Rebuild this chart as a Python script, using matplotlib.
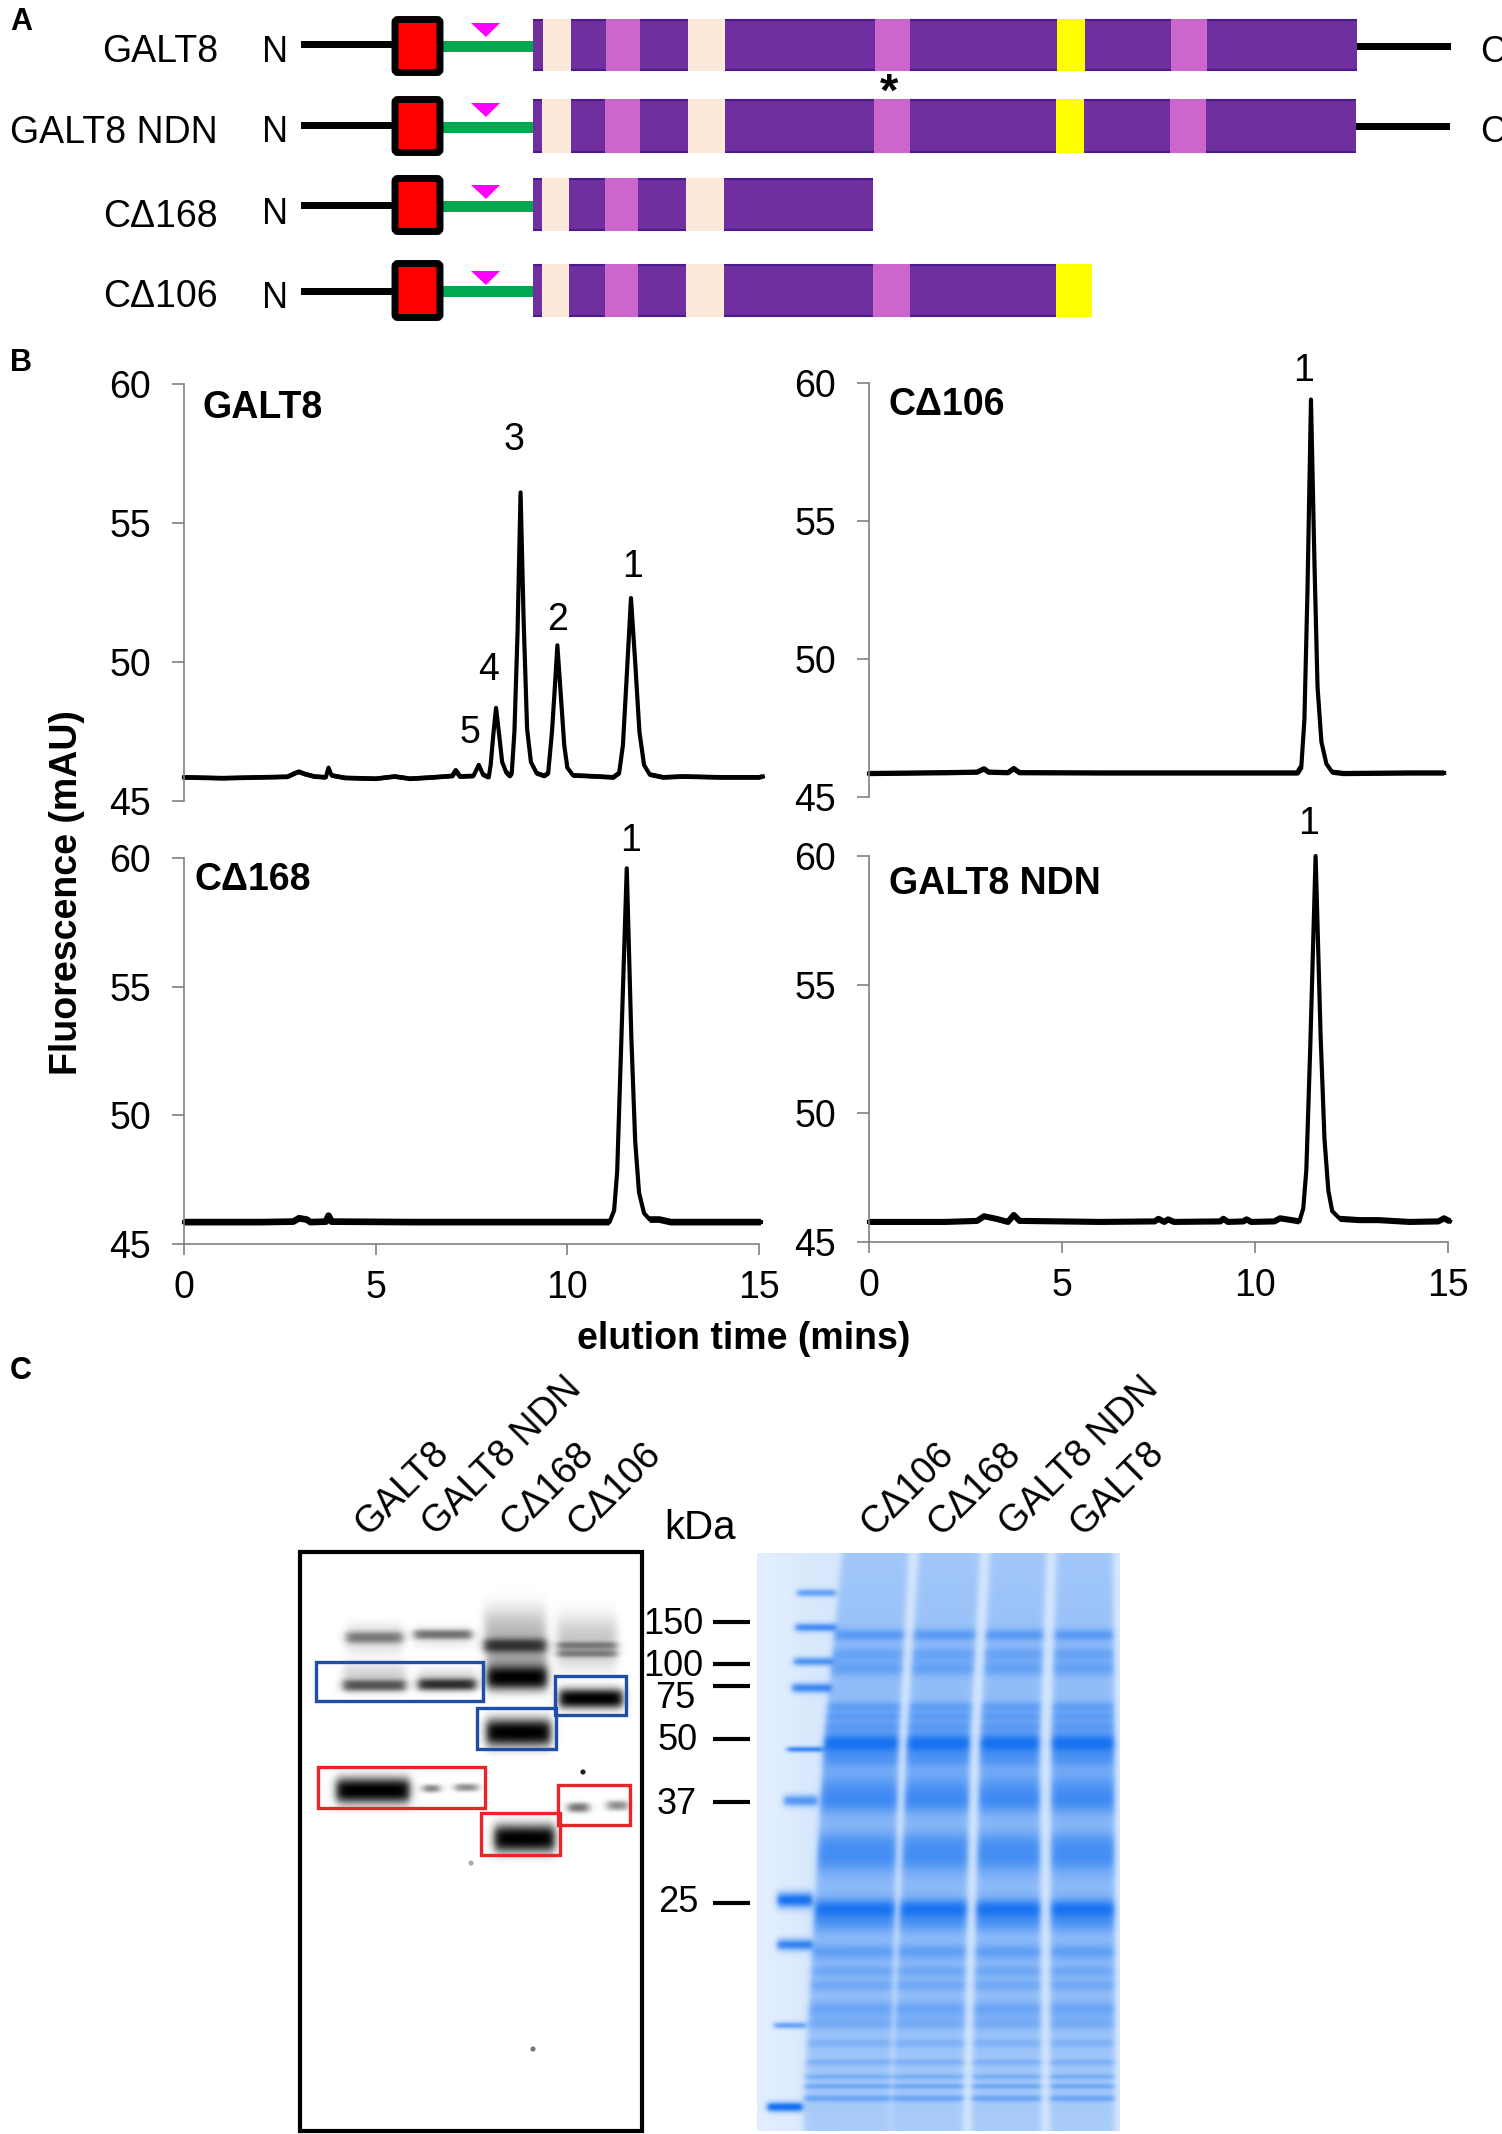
import numpy as np
import matplotlib
matplotlib.use("Agg")
import matplotlib.pyplot as plt
from matplotlib.patches import Rectangle, FancyBboxPatch

W, H = 1502, 2134
plt.rcParams['font.family'] = ['Liberation Sans', 'DejaVu Sans']

# ---- panel A, domain boundaries per construct
row_names = ["GALT8", "GALT8 NDN", "C\u0394168", "C\u0394106"]
row_edges = [
    [533, 543, 571, 606, 640, 688, 725, 875, 910, 1057, 1085, 1171, 1207, 1357],
    [533, 542, 571, 605, 640, 688, 725, 874, 910, 1056, 1084, 1170, 1206, 1356],
    [533, 542, 569, 605, 638, 686, 724, 873],
    [533, 542, 569, 605, 638, 686, 724, 873, 910, 1056, 1092],
]
row_top = [19, 99, 178, 264]
row_bot = [71, 153, 231, 317]
box_top = [16, 96, 175, 260]
box_bot = [76, 156, 235, 321]
line_y = [44, 125, 205, 291]
green_y = [46, 127, 206, 291]
tri_top = [23, 103, 185, 271]
name_y = [52, 133, 217, 297]
n_y = [53, 133, 214, 299]
c_line_y = [46, 126]
c_y = [52, 132]
purple, peach, pink, yellow = "#6F2F9F", "#FDE9D9", "#CC66CC", "#FFFF00"
seg_colors = [purple, peach, purple, pink, purple, peach, purple, pink, purple,
              yellow, purple, pink, purple]

# ---- panel B, traces
galt8_t = [0, 1, 2, 2.7, 2.9, 3.0, 3.15, 3.4, 3.7, 3.77, 3.85, 4.2, 5, 5.5, 5.9, 6.5, 7.0, 7.09, 7.2,
           7.55, 7.69, 7.8, 7.95, 8.0, 8.07, 8.14, 8.22, 8.3, 8.4, 8.5, 8.55, 8.62, 8.7, 8.78, 8.86,
           8.95, 9.05, 9.2, 9.4, 9.5, 9.6, 9.67, 9.74, 9.82, 9.92, 10.0, 10.15, 10.5, 11.2, 11.35,
           11.45, 11.55, 11.66, 11.77, 11.88, 12.0, 12.15, 12.5, 13, 14, 15, 15.1]
galt8_v = [45.85, 45.82, 45.85, 45.87, 46.0, 46.05, 45.97, 45.88, 45.85, 46.2, 45.92, 45.83, 45.8, 45.88,
           45.8, 45.85, 45.9, 46.1, 45.88, 45.9, 46.3, 45.95, 45.85, 46.3, 47.4, 48.35, 47.4, 46.4, 46.05,
           45.9, 46.0, 47.5, 51.0, 56.1, 51.5, 47.6, 46.4, 46.0, 45.9, 46.0, 47.5, 49.0, 50.6, 49.0, 47.0,
           46.2, 45.92, 45.9, 45.85, 46.0, 47.0, 49.5, 52.3, 50.0, 47.5, 46.3, 45.95, 45.85, 45.88, 45.85,
           45.85, 45.88]
c106_t = [0, 2, 2.8, 2.98, 3.1, 3.6, 3.75, 3.9, 6, 9, 11.1, 11.2, 11.28, 11.36, 11.45, 11.54, 11.62, 11.72,
          11.85, 12.0, 12.3, 14, 14.9]
c106_v = [45.85, 45.88, 45.9, 46.02, 45.9, 45.88, 46.03, 45.88, 45.87, 45.87, 45.87, 46.1, 47.8, 52.5, 59.4,
          53.5, 49.0, 47.0, 46.2, 45.9, 45.85, 45.87, 45.87]
c168_t = [0, 2, 2.85, 3.0, 3.2, 3.3, 3.7, 3.77, 3.85, 6, 9, 11.1, 11.22, 11.3, 11.4, 11.55, 11.67, 11.77,
          11.87, 12.0, 12.15, 12.4, 12.7, 14, 15.05]
c168_v = [45.85, 45.85, 45.87, 46.0, 45.95, 45.85, 45.87, 46.1, 45.87, 45.85, 45.85, 45.85, 46.3, 47.8, 52.5,
          59.6, 53.0, 49.0, 47.0, 46.2, 45.95, 45.95, 45.85, 45.85, 45.85]
ndn_t = [0, 2, 2.8, 2.98, 3.3, 3.6, 3.75, 3.9, 6, 7.4, 7.5, 7.65, 7.75, 7.9, 9.1, 9.18, 9.3, 9.7, 9.78, 9.9,
         10.5, 10.65, 10.95, 11.15, 11.25, 11.33, 11.43, 11.57, 11.7, 11.8, 11.9, 12.0, 12.2, 12.7, 13.2, 14,
         14.75, 14.9, 15.05]
ndn_v = [45.78, 45.78, 45.82, 46.0, 45.9, 45.78, 46.05, 45.82, 45.78, 45.8, 45.9, 45.78, 45.88, 45.78, 45.8, 45.9,
         45.78, 45.8, 45.88, 45.78, 45.8, 45.92, 45.85, 45.8, 46.3, 47.8, 52.5, 60.0, 53.0, 49.0, 47.0, 46.2, 45.9,
         45.85, 45.85, 45.78, 45.8, 45.92, 45.8]

panel_names = ["GALT8", "C\u0394106", "C\u0394168", "GALT8 NDN"]
panel_t = [galt8_t, c106_t, c168_t, ndn_t]
panel_v = [galt8_v, c106_v, c168_v, ndn_v]
panel_left = [184, 869, 184, 869]
panel_right = [759, 1448, 759, 1448]
panel_y60 = [384, 383, 858, 856]
panel_y45 = [801, 797, 1244, 1242]
panel_base_lw = [3.4, 3.8, 4.8, 4.4]
panel_name_xy = [(202, 408), (889, 405), (195, 880), (889, 884)]
y_ticks = [45, 50, 55, 60]
x_ticks = [0, 5, 10, 15]
peak_labels = [("1", 633, 567), ("2", 558, 620), ("3", 514, 440), ("4", 489, 670), ("5", 470, 733),
               ("1", 1304, 371), ("1", 631, 841), ("1", 1309, 824)]

# ---- panel C, blot bands: x0, x1, y centre, half height, darkness
blot_bands = [
    (346, 402, 1637, 6, .45), (346, 402, 1638, 15, .14), (414, 471, 1634, 5, .5), (414, 471, 1636, 11, .1),
    (484, 545, 1645, 7, .7), (484, 545, 1632, 25, .25), (487, 546, 1677, 12, 1.0), (487, 546, 1662, 24, .3),
    (557, 616, 1645, 4, .4), (557, 616, 1653, 4, .4), (557, 616, 1642, 26, .22),
    (343, 405, 1685, 6, .62), (343, 405, 1677, 14, .18), (418, 475, 1684, 6, .78), (418, 475, 1680, 11, .18),
    (559, 622, 1698, 10, 1.0), (486, 550, 1732, 14, 1.0), (336, 409, 1790, 13, 1.0),
    (423, 439, 1788, 4, .5), (455, 477, 1787, 4, .45), (494, 554, 1838, 14, 1.0),
    (568, 588, 1807, 5, .55), (607, 627, 1805, 5, .45),
]
speck_x = [583, 471, 533]
speck_y = [1772, 1863, 2049]
speck_color = ["#222222", "#AAAAAA", "#777777"]
blue_boxes = [(316, 1662, 483, 1701), (477, 1708, 556, 1749), (555, 1676, 626, 1715)]
red_boxes = [(318, 1767, 485, 1808), (481, 1813, 560, 1855), (558, 1785, 630, 1825)]
blot_labels = [("GALT8", 368), ("GALT8 NDN", 436), ("C\u0394168", 514), ("C\u0394106", 581)]
kda_labels = ["150", "100", "75", "50", "37", "25"]
kda_y = [1622, 1664, 1686, 1739, 1802, 1903]
kda_text_y = [1625, 1666, 1698, 1741, 1805, 1902]
kda_text_x = [703, 703, 695, 698, 697, 698]

# ---- panel C, stained gel (units: gel_u across, gel_v down)
lane_v = [360, 755, 1500]
lane_left = [[305, 250, 190], [535, 500, 455], [750, 720, 695], [950, 935, 930]]
lane_right = [[505, 475, 450], [720, 690, 670], [920, 900, 905], [1120, 1125, 1125]]
lane_band_v = [530, 570, 600, 680, 700, 720, 755, 790, 850, 880, 960, 995, 1100, 1130, 1190, 1230, 1260,
               1310, 1340, 1380, 1420, 1450, 1470, 1495]
lane_band_s = [.55, .4, .4, .4, .4, .35, 1.0, .4, .45, .4, .35, .55, .95, .45, .4, .3, .3, .4, .3, .25,
               .3, .35, .45, .5]
lane_band_h = [13, 16, 15, 11, 11, 11, 22, 18, 34, 24, 24, 30, 20, 20, 16, 13, 13, 18, 13, 10, 7, 6, 6, 7]
ladder_bands = [(170, 285, 442, .55, 8), (165, 285, 514, .7, 9), (160, 275, 585, .65, 9), (155, 270, 640, .75, 10),
                (140, 245, 768, .75, 6), (130, 230, 875, .65, 12), (110, 215, 1082, .95, 16),
                (110, 215, 1175, .8, 12), (100, 195, 1343, .55, 7), (80, 185, 1513, 1.0, 10)]
gel_labels = [("C\u0394106", 874), ("C\u0394168", 941), ("GALT8 NDN", 1013), ("GALT8", 1083)]
gel_base_v = [360, 520, 760, 1150, 1562]
gel_base_s = [.26, .3, .38, .36, .22]


def edge(x, a, b, s):
    return 0.5 * (np.tanh((x - a) / s) - np.tanh((x - b) / s))


fig = plt.figure(figsize=(W / 100, H / 100), dpi=100)

# chromatograms
for i in range(4):
    ax = fig.add_axes([panel_left[i] / W, 1 - panel_y45[i] / H,
                       (panel_right[i] - panel_left[i]) / W, (panel_y45[i] - panel_y60[i]) / H])
    ax.plot(panel_t[i], panel_v[i], color="black", lw=3.0, clip_on=False, solid_joinstyle="round")
    # baseline looks heavier than the peaks in the original
    low = np.ma.masked_where(np.array(panel_v[i]) > 46.12, panel_v[i])
    ax.plot(panel_t[i], low, color="black", lw=panel_base_lw[i], clip_on=False, solid_capstyle="butt")
    ax.set_xlim(0, 15)
    ax.set_ylim(45, 60)
    ax.set_yticks(y_ticks)
    ax.spines[["top", "right"]].set_visible(False)
    ax.spines["left"].set_color("#808080")
    ax.spines["bottom"].set_color("#808080")
    ax.spines["left"].set_linewidth(1.2)
    ax.spines["bottom"].set_linewidth(1.2)
    ax.tick_params(axis="y", length=8.5, width=1.2, color="#808080", labelsize=27, pad=15)
    if i < 2:
        ax.spines["bottom"].set_visible(False)
        ax.set_xticks([])
    else:
        ax.set_xticks(x_ticks)
        ax.tick_params(axis="x", length=8, width=1.2, color="#808080", labelsize=27, pad=11)

# everything else sits on one axes in image pixels
ov = fig.add_axes([0, 0, 1, 1], facecolor="none")
ov.set_xlim(0, W)
ov.set_ylim(H, 0)
ov.axis("off")

# panel A
for r in range(4):
    edges = row_edges[r]
    for j in range(len(edges) - 1):
        ov.add_patch(Rectangle((edges[j], row_top[r]), edges[j + 1] - edges[j], row_bot[r] - row_top[r],
                               fc=seg_colors[j], ec="none"))
        if seg_colors[j] == purple:
            ov.plot([edges[j], edges[j + 1]], [row_top[r] + 1, row_top[r] + 1], color="#4B1A8F", lw=1.5,
                    solid_capstyle="butt")
            ov.plot([edges[j], edges[j + 1]], [row_bot[r] - 1, row_bot[r] - 1], color="#4B1A8F", lw=1.5,
                    solid_capstyle="butt")
    ov.add_patch(Rectangle((301, line_y[r] - 3.5), 92, 7, fc="black", ec="none"))
    ov.add_patch(Rectangle((443, green_y[r] - 5.5), 90, 11, fc="#00A94F", ec="none"))
    ov.add_patch(FancyBboxPatch((398, box_top[r] + 6.5), 39, box_bot[r] - box_top[r] - 13,
                                boxstyle="round,pad=3,rounding_size=3", fc="#FF0000", ec="black", lw=5))
    ov.fill([471, 500, 486], [tri_top[r], tri_top[r], tri_top[r] + 14], color="#FF00FF", lw=0)
    ov.text(218, name_y[r], row_names[r], fontsize=27, ha="right", va="center")
    ov.text(275, n_y[r], "N", fontsize=26, ha="center", va="center")
for r in range(2):
    ov.add_patch(Rectangle((row_edges[r][-1], c_line_y[r] - 3.5), 94, 7, fc="black", ec="none"))
    ov.text(1480, c_y[r], "C", fontsize=26, ha="left", va="center")
ov.text(889, 94, "*", fontsize=34, fontweight="bold", ha="center", va="center")

ov.text(10, 22, "A", fontsize=22, fontweight="bold", ha="left", va="center")
ov.text(10, 363, "B", fontsize=22, fontweight="bold", ha="left", va="center")
ov.text(10, 1371, "C", fontsize=22, fontweight="bold", ha="left", va="center")

# panel B text
for name, (x, y) in zip(panel_names, panel_name_xy):
    ov.text(x, y, name, fontsize=27, fontweight="bold", ha="left", va="center")
for lab, x, y in peak_labels:
    ov.text(x, y, lab, fontsize=27, ha="center", va="center")
ov.text(67, 893, "Fluorescence (mAU)", fontsize=27, fontweight="bold", rotation=90, ha="center", va="center")
ov.text(744, 1339, "elution time (mins)", fontsize=27, fontweight="bold", ha="center", va="center")

# blot
bx, by = np.meshgrid(np.arange(300, 642), np.arange(1552, 2131))
blot = np.ones(bx.shape)
for x0, x1, yc, hh, d in blot_bands:
    blot *= 1 - d * edge(bx, x0, x1, 5) * np.exp(-np.abs((by - yc) / hh) ** 2.5)
ov.imshow(blot, extent=(300, 642, 2131, 1552), cmap="gray", vmin=0, vmax=1, aspect="auto", zorder=1)
ov.scatter(speck_x, speck_y, s=14, c=speck_color, linewidths=0, zorder=2)
ov.add_patch(Rectangle((300, 1552), 342, 579, fc="none", ec="black", lw=3, zorder=3))
for x0, y0, x1, y1 in blue_boxes:
    ov.add_patch(Rectangle((x0, y0), x1 - x0, y1 - y0, fc="none", ec="#1F4EA8", lw=2.4, zorder=3))
for x0, y0, x1, y1 in red_boxes:
    ov.add_patch(Rectangle((x0, y0), x1 - x0, y1 - y0, fc="none", ec="#E8262A", lw=2.4, zorder=3))
for lab, x in blot_labels:
    ov.text(x, 1537, lab, fontsize=27, rotation=45, rotation_mode="anchor", ha="left", va="baseline")
ov.text(664, 1528, "kDa", fontsize=29, ha="left", va="center")
for lab, y, ty, tx in zip(kda_labels, kda_y, kda_text_y, kda_text_x):
    ov.text(tx, ty, lab, fontsize=26, ha="right", va="center")
    ov.plot([713, 750], [y, y], color="black", lw=3, solid_capstyle="butt")

# stained gel
gu, gv = np.meshgrid(np.linspace(50, 1140, 363), np.linspace(360, 1562, 578))
stain = 0.04 + 0.05 * edge(gu, 150, 2000, 60)
base = np.interp(gv, gel_base_v, gel_base_s)
for k in range(4):
    lft = np.interp(gv, lane_v, lane_left[k])
    rgt = np.interp(gv, lane_v, lane_right[k])
    mask = edge(gu, lft, rgt, 11)
    stain = stain + base * mask
    for v0, s, h in zip(lane_band_v, lane_band_s, lane_band_h):
        stain = stain + 0.55 * s * mask * np.exp(-((gv - v0) / h) ** 2)
for u0, u1, v0, s, h in ladder_bands:
    stain = stain + s * edge(gu, u0, u1, 10) * np.exp(-((gv - v0) / h) ** 2)
stain = np.clip(stain, 0, 1)[..., None]
paper = np.array([235, 244, 254]) / 255
dye = np.array([25, 115, 240]) / 255
ov.imshow(paper + (dye - paper) * stain, extent=(757, 1120, 2131, 1553), aspect="auto", zorder=1)
for lab, x in gel_labels:
    ov.text(x, 1537, lab, fontsize=27, rotation=45, rotation_mode="anchor", ha="left", va="baseline")

ov.set_xlim(0, W)
ov.set_ylim(H, 0)
fig.savefig("out.png", dpi=100)
